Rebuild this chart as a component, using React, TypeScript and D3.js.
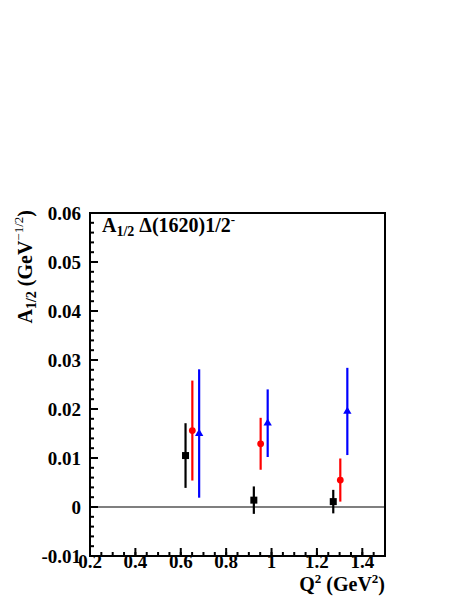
import React from "react";
import * as d3 from "d3";

const xTicks = [0.2, 0.4, 0.6, 0.8, 1.0, 1.2, 1.4];
const xTickLabels = ["0.2", "0.4", "0.6", "0.8", "1", "1.2", "1.4"];
const yTicks = [-0.01, 0, 0.01, 0.02, 0.03, 0.04, 0.05, 0.06];
const yTickLabels = ["-0.01", "0", "0.01", "0.02", "0.03", "0.04", "0.05", "0.06"];

const blackX = [0.621, 0.922, 1.272];
const blackY = [0.0105, 0.0014, 0.0011];
const blackErr = [0.0066, 0.0028, 0.0024];

const redX = [0.651, 0.952, 1.303];
const redY = [0.0156, 0.0129, 0.0055];
const redErr = [0.0102, 0.0053, 0.0044];

const blueX = [0.681, 0.983, 1.334];
const blueY = [0.015, 0.0171, 0.0195];
const blueErr = [0.0131, 0.0069, 0.0089];

const W = 463;
const H = 599;
const left = 90, right = 385, top = 213, bottom = 556;
const FONT = "'Liberation Serif', 'Times New Roman', serif";

export default function App() {
  const x = d3.scaleLinear().domain([0.2, 1.5]).range([left, right]);
  const y = d3.scaleLinear().domain([-0.01, 0.06]).range([bottom, top]);

  const xMinor = d3.range(0, 27).map((i) => 0.2 + i * 0.05).filter((v) => v <= 1.5001);
  const yMinor = d3.range(0, 36).map((i) => -0.01 + i * 0.002).filter((v) => v <= 0.0601);

  const series = [
    { xs: blackX, ys: blackY, es: blackErr, color: "#000000", marker: "square" },
    { xs: redX, ys: redY, es: redErr, color: "#ff0000", marker: "circle" },
    { xs: blueX, ys: blueY, es: blueErr, color: "#0000ff", marker: "triangle" },
  ];

  const tri = d3.symbol().type(d3.symbolTriangle).size(30)();

  return (
    <svg
      width={W}
      height={H}
      style={{ position: "absolute", left: 0, top: 0, background: "#fff" }}
      fontFamily={FONT}
    >
      <rect x={0} y={0} width={W} height={H} fill="#fff" />
      {/* zero line */}
      <line x1={left} x2={right} y1={y(0)} y2={y(0)} stroke="#555" strokeWidth={1.5} />

      {/* minor ticks */}
      {xMinor.map((v, i) => (
        <line key={"xm" + i} x1={x(v)} x2={x(v)} y1={bottom} y2={bottom - 4} stroke="#000" strokeWidth={2} />
      ))}
      {yMinor.map((v, i) => (
        <line key={"ym" + i} x1={left} x2={left + 4} y1={y(v)} y2={y(v)} stroke="#000" strokeWidth={2} />
      ))}
      {xTicks.map((v, i) => (
        <line key={"xM" + i} x1={x(v)} x2={x(v)} y1={bottom} y2={bottom - 8} stroke="#000" strokeWidth={2} />
      ))}
      {yTicks.map((v, i) => (
        <line key={"yM" + i} x1={left} x2={left + 8} y1={y(v)} y2={y(v)} stroke="#000" strokeWidth={2} />
      ))}

      {/* frame */}
      <rect x={left} y={top} width={right - left} height={bottom - top} fill="none" stroke="#000" strokeWidth={2} />

      {/* tick labels */}
      {xTicks.map((v, i) => (
        <text key={"xl" + i} x={x(v)} y={568} textAnchor="middle" fontSize={19} fontWeight="bold">
          {xTickLabels[i]}
        </text>
      ))}
      {yTicks.map((v, i) => (
        <text key={"yl" + i} x={81} y={y(v) + 7} textAnchor="end" fontSize={19} fontWeight="bold">
          {yTickLabels[i]}
        </text>
      ))}

      {/* data */}
      {series.map((s, si) =>
        s.xs.map((xv, i) => {
          const cx = x(xv);
          const cy = y(s.ys[i]);
          return (
            <g key={"p" + si + "-" + i}>
              <line
                x1={cx}
                x2={cx}
                y1={y(s.ys[i] + s.es[i])}
                y2={y(s.ys[i] - s.es[i])}
                stroke={s.color}
                strokeWidth={2.2}
              />
              {s.marker === "square" && (
                <rect x={cx - 3.5} y={cy - 3.5} width={7} height={7} fill={s.color} />
              )}
              {s.marker === "circle" && <circle cx={cx} cy={cy} r={3.4} fill={s.color} />}
              {s.marker === "triangle" && (
                <path d={tri as string} transform={`translate(${cx},${cy})`} fill={s.color} />
              )}
            </g>
          );
        })
      )}

      {/* panel title */}
      <text x={102} y={232} fontSize={20} fontWeight="bold">
        A<tspan fontSize={14} dy={4}>1/2</tspan>
        <tspan dy={-4}> Δ(1620)1/2</tspan>
        <tspan fontSize={13} dy={-8}>-</tspan>
      </text>

      {/* x axis title */}
      <text x={385} y={591} textAnchor="end" fontSize={20} fontWeight="bold">
        Q<tspan fontSize={13} dy={-8}>2</tspan>
        <tspan dy={8}> (GeV</tspan>
        <tspan fontSize={13} dy={-8}>2</tspan>
        <tspan dy={8}>)</tspan>
      </text>

      {/* y axis title */}
      <text
        transform="translate(32,210) rotate(-90)"
        textAnchor="end"
        fontSize={20}
        fontWeight="bold"
      >
        A<tspan fontSize={14} dy={4}>1/2</tspan>
        <tspan dy={-4}> (GeV</tspan>
        <tspan fontSize={13} fontWeight="normal" dy={-9}>−1/2</tspan>
        <tspan dy={9}>)</tspan>
      </text>
    </svg>
  );
}
